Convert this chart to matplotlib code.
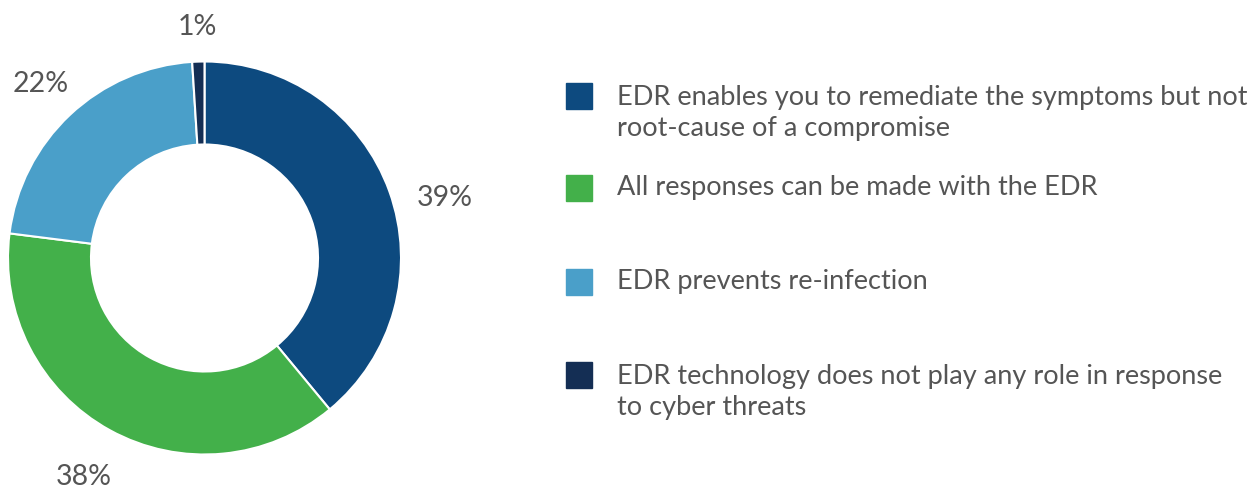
import matplotlib
matplotlib.use("Agg")
import matplotlib.pyplot as plt
import numpy as np

plt.rcParams['font.family'] = ['Lato', 'DejaVu Sans']

categories = [
    "EDR enables you to remediate the symptoms but not\nroot-cause of a compromise",
    "All responses can be made with the EDR",
    "EDR prevents re-infection",
    "EDR technology does not play any role in response\nto cyber threats",
]
values = [39, 38, 22, 1]
pct_labels = ["39%", "38%", "22%", "1%"]
colors = ["#0D4A7F", "#43B04A", "#4A9FC9", "#142E54"]
text_color = "#555555"

W, H = 1253, 491
fig = plt.figure(figsize=(W / 100, H / 100), dpi=100)

# pie axes: center at (204.5, 258) px from top-left, outer radius 196.5 px
R = 196.5
half = 250
cx, cy = 204.5, H - 258
ax = fig.add_axes([(cx - half) / W, (cy - half) / H, 2 * half / W, 2 * half / H])

wedges, texts = ax.pie(values, colors=colors, startangle=90, counterclock=False,
                       radius=1.0, labels=pct_labels, labeldistance=1.22,
                       wedgeprops=dict(width=1 - 113.5 / R, edgecolor='white', linewidth=1.5),
                       textprops=dict(fontsize=20.5, color=text_color))
L = half / R
ax.set_xlim(-L, L)
ax.set_ylim(-L, L)
ax.set_aspect('equal')
ax.axis('off')

# label placement: mid-angle of each wedge (first one nudged), per-label distance
label_dist = [1.262, 1.272, 1.218, 1.176]
for i, (w, t) in enumerate(zip(wedges, texts)):
    mid = 0.5 * (w.theta1 + w.theta2)
    if i == 0:
        mid = 14
    a = np.deg2rad(mid)
    t.set_position((label_dist[i] * np.cos(a), label_dist[i] * np.sin(a)))
    t.set_ha('center')
    t.set_va('center')

# legend
lax = fig.add_axes([0, 0, 1, 1])
lax.set_xlim(0, W)
lax.set_ylim(H, 0)
lax.axis('off')
row_y = [96, 188, 282, 375]
for y, lab, c in zip(row_y, categories, colors):
    lax.add_patch(plt.Rectangle((566, y - 13), 26, 26, color=c))
    ty = y + 17 if "\n" in lab else y
    lax.text(617, ty, lab, fontsize=19.5, color=text_color,
             va='center', ha='left', linespacing=1.27)

fig.savefig("out.png", dpi=100)
